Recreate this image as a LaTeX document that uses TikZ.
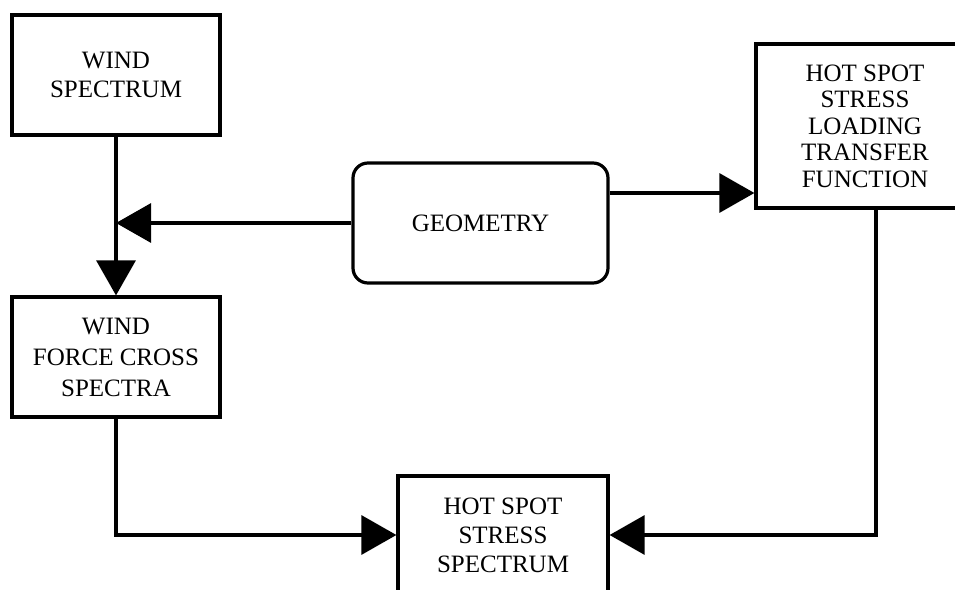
\documentclass[tikz,border=0pt]{standalone}
\usepackage{fontspec}
\setmainfont{Liberation Serif}
\usetikzlibrary{arrows.meta,calc}
\begin{document}
\begin{tikzpicture}[x=1bp,y=-1bp,
  box/.style={draw=black,line width=3.2bp,fill=white,align=center,inner sep=0pt,
    font=\fontsize{25bp}{29bp}\selectfont},
  conn/.style={line width=3.2bp,-{Triangle[length=35bp,width=39bp]}}]
\useasboundingbox (0,0) rectangle (955,590);
\clip (0,0) rectangle (955,590);
\node[box,minimum width=208bp,minimum height=120bp] (ws) at (116,75) {WIND\\SPECTRUM};
\node[box,minimum width=208bp,minimum height=120bp,font=\fontsize{25bp}{31bp}\selectfont] (wf) at (116,357) {WIND\\FORCE CROSS\\SPECTRA};
\node[box,rounded corners=15bp,minimum width=255bp,minimum height=120bp] (geo) at (480.5,223) {GEOMETRY};
\node[box,minimum width=218bp,minimum height=164bp,font=\fontsize{25bp}{26.5bp}\selectfont] (tf) at (865,126) {HOT SPOT\\STRESS\\LOADING\\TRANSFER\\FUNCTION};
\node[box,minimum width=210bp,minimum height=118bp] (hs) at (503,535) {HOT SPOT\\STRESS\\SPECTRUM};
\coordinate (ry) at (0,193);
\coordinate (rx) at (876,0);
\draw[conn] (ws.south) -- (wf.north);
\draw[conn] (geo.west) -- (geo.west -| ws.south);
\draw[conn] (geo.east |- ry) -- (tf.west |- ry);
\draw[conn] (wf.south) |- (hs.west);
\draw[conn] (tf.south -| rx) |- (hs.east);
\end{tikzpicture}
\end{document}
